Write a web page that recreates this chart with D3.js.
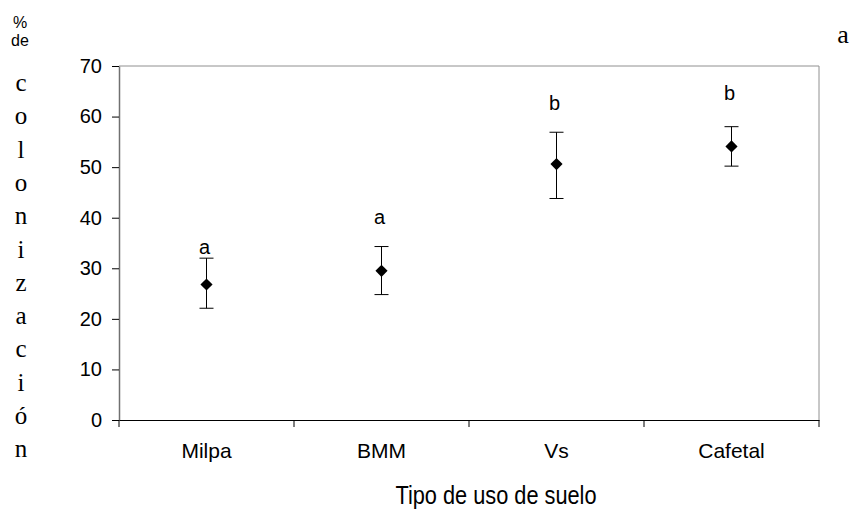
<!DOCTYPE html>
<html><head><meta charset="utf-8">
<script src="https://cdn.jsdelivr.net/npm/d3@7"></script>
<style>body{margin:0;background:#fff}svg{display:block}</style>
</head><body>
<script>
const categories = ["Milpa", "BMM", "Vs", "Cafetal"];
const means = [26.8, 29.5, 50.6, 54.1];
const upper = [32.0, 34.3, 56.9, 58.0];
const lower = [22.1, 24.8, 43.8, 50.2];
const groupLetters = ["a", "a", "b", "b"];
const letterLevels = [32.8, 38.8, 61.3, 63.3];
const yTicks = [0, 10, 20, 30, 40, 50, 60, 70];
const yLabelTop = ["%", "de"];
const yLabelLetters = ["c","o","l","o","n","i","z","a","c","i","ó","n"];

const W = 852, H = 509;
const m = {left: 119, right: 33, top: 66, bottom: 89};
const SANS = "Liberation Sans, Arial, sans-serif";
const SERIF = "Liberation Serif, 'Times New Roman', serif";
const svg = d3.select("body").append("svg").attr("width", W).attr("height", H);

const x = d3.scaleBand().domain(categories).range([m.left, W - m.right]);
const y = d3.scaleLinear().domain([0, 70]).range([H - m.bottom, m.top]);

// frame (top/right)
svg.append("line").attr("x1", m.left).attr("x2", W - m.right).attr("y1", y(70)).attr("y2", y(70)).attr("stroke", "#909090");
svg.append("line").attr("x1", W - m.right).attr("x2", W - m.right).attr("y1", y(70)).attr("y2", y(0)).attr("stroke", "#909090");

// y axis
const gy = svg.append("g").attr("transform", `translate(${m.left},0)`)
  .call(d3.axisLeft(y).tickValues(yTicks).tickSize(7).tickPadding(10).tickSizeOuter(0));
gy.select(".domain").attr("stroke", "#707070").attr("stroke-width", 1.5);
gy.selectAll(".tick line").attr("stroke", "#000");
gy.selectAll("text").attr("font-family", SANS).attr("font-size", 20).attr("fill", "#000");

// x axis
const gx = svg.append("g").attr("transform", `translate(0,${y(0)})`)
  .call(d3.axisBottom(x).tickSize(0).tickPadding(23));
gx.select(".domain").attr("stroke", "#000").attr("stroke-width", 1.2);
gx.selectAll("text").attr("font-family", SANS).attr("font-size", 21).attr("fill", "#000");

// category boundary ticks
const bounds = categories.map(c => x(c)).concat([x(categories[categories.length-1]) + x.bandwidth()]);
svg.append("g").selectAll("line").data(bounds).join("line")
  .attr("x1", d => d).attr("x2", d => d).attr("y1", y(0)).attr("y2", y(0) + 7).attr("stroke", "#000");

// error bars + markers + letters
const cap = 7;
const g = svg.append("g");
categories.forEach((c, i) => {
  const cx = x(c) + x.bandwidth() / 2;
  g.append("line").attr("x1", cx).attr("x2", cx).attr("y1", y(upper[i])).attr("y2", y(lower[i])).attr("stroke", "#000");
  g.append("line").attr("x1", cx - cap).attr("x2", cx + cap).attr("y1", y(upper[i])).attr("y2", y(upper[i])).attr("stroke", "#000");
  g.append("line").attr("x1", cx - cap).attr("x2", cx + cap).attr("y1", y(lower[i])).attr("y2", y(lower[i])).attr("stroke", "#000");
  g.append("path").attr("d", d3.symbol(d3.symbolSquare, 74)())
    .attr("transform", `translate(${cx},${y(means[i])}) rotate(45)`)
    .attr("fill", "#000");
  g.append("text").attr("x", cx - 2).attr("y", y(letterLevels[i]))
    .attr("text-anchor", "middle").attr("font-family", SANS).attr("font-size", 20)
    .text(groupLetters[i]);
});

// x title
svg.append("text").attr("transform", "translate(496,504) scale(0.87,1)").attr("text-anchor", "middle")
  .attr("font-family", SANS).attr("font-size", 25).text("Tipo de uso de suelo");

// y title stacked
svg.append("g").selectAll("text").data(yLabelTop).join("text")
  .attr("x", 20).attr("y", (d, i) => 28 + i * 18).attr("text-anchor", "middle")
  .attr("font-family", SANS).attr("font-size", 16).text(d => d);
svg.append("g").selectAll("text").data(yLabelLetters).join("text")
  .attr("x", 21).attr("y", (d, i) => 91 + i * 33.3).attr("text-anchor", "middle")
  .attr("font-family", SERIF).attr("font-size", 25).text(d => d);

// corner label
svg.append("text").attr("x", 843).attr("y", 43).attr("text-anchor", "middle")
  .attr("font-family", SERIF).attr("font-size", 26).text("a");
</script>
</body></html>
